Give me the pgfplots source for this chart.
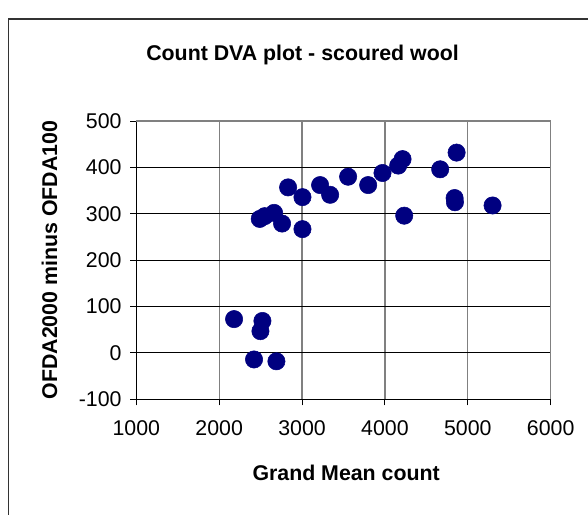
\documentclass[border=0pt]{standalone}
\usepackage{fontspec}
\setmainfont{Liberation Sans}
\usepackage{pgfplots}
\pgfplotsset{compat=1.18}
\definecolor{navy}{RGB}{0,0,128}

\pgfplotstableread{
x y
2180 73
2522 69
2498 47
2421 -14
2691 -18
2490 289
2550 295
2663 302
2759 279
3005 267
2832 357
3005 336
3218 362
3339 341
3556 380
3798 362
3971 388
4160 404
4213 418
4233 296
4667 396
4865 432
4841 334
4845 325
5299 318
}\dvadata

\begin{document}
\begin{tikzpicture}[x=1pt,y=1pt]
\useasboundingbox (0,0) rectangle (441,385.5);
% chart frame (right and bottom edges fall outside the picture)
\draw[line width=1pt, black!80] (6.2,-5) -- (6.2,371.25) -- (450,371.25);
\begin{axis}[
    at={(102.2pt,86pt)}, anchor=south west,
    scale only axis,
    width=310.8pt, height=208.7pt,
    xmin=1000, xmax=6000, ymin=-100, ymax=500,
    xtick={1000,2000,...,6000}, ytick={-100,0,...,500},
    axis x line*=bottom, axis y line*=left,
    axis line style={black, line width=0.9pt, -},
    tick align=outside, major tick length=4.5pt,
    tick style={black, line width=0.75pt},
    xmajorgrids, ymajorgrids,
    x grid style={gray, line width=0.9pt},
    y grid style={black, line width=0.75pt},
    ticklabel style={font=\fontsize{16}{19}\selectfont},
    xticklabel style={yshift=-8pt},
    yticklabel style={xshift=-3pt},
    /pgf/number format/assume math mode=true,
    /pgf/number format/1000 sep={},
    clip=false,
]
\addplot[only marks, mark=*, mark size=6.5pt, draw=navy, fill=navy] table {\dvadata};
\draw[gray, line width=1.2pt] (rel axis cs:0,1) -- (rel axis cs:1,1) -- (rel axis cs:1,0);
\end{axis}
\node[anchor=base, font=\bfseries\fontsize{16}{19}\selectfont] at (226.9,339.75) {Count DVA plot - scoured wool};
\node[anchor=base, font=\bfseries\fontsize{16}{19}\selectfont] at (259.6,25.5) {Grand Mean count};
\node[anchor=base, rotate=90, font=\bfseries\fontsize{16}{19}\selectfont] at (42.75,190.5) {OFDA2000 minus OFDA100};
\end{tikzpicture}
\end{document}
